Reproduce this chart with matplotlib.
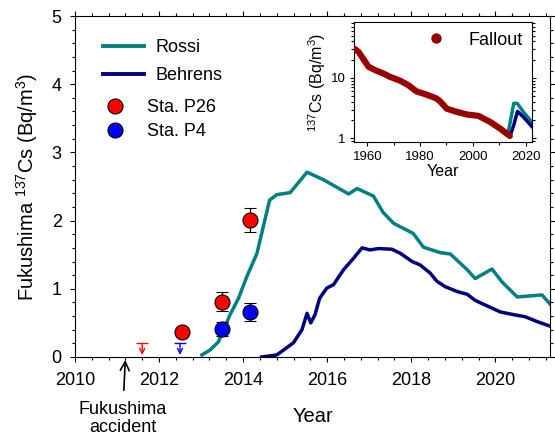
import matplotlib
matplotlib.use("Agg")
import matplotlib.pyplot as plt
from matplotlib.ticker import MultipleLocator, FixedLocator, NullFormatter
from matplotlib.lines import Line2D

plt.rcParams['font.family'] = ['Liberation Sans', 'DejaVu Sans']
plt.rcParams['mathtext.default'] = 'regular'

TEAL = "#008080"
NAVY = "#000080"
FALLOUT_RED = "#990000"

# --- main panel: model curves (Fukushima 137Cs, Bq/m3) ---
rossi_year = [2013.02, 2013.21, 2013.41, 2013.53, 2013.69, 2013.89, 2014.09, 2014.33,
              2014.63, 2014.80, 2015.12, 2015.36, 2015.52, 2015.91, 2016.51, 2016.71,
              2017.10, 2017.33, 2017.58, 2018.05, 2018.29, 2018.69, 2018.93, 2019.33,
              2019.52, 2019.92, 2020.16, 2020.52, 2021.11, 2021.31]
rossi_cs = [0.03, 0.10, 0.22, 0.39, 0.62, 0.86, 1.18, 1.52,
            2.30, 2.38, 2.41, 2.59, 2.71, 2.60, 2.39, 2.47,
            2.36, 2.12, 1.96, 1.81, 1.61, 1.53, 1.51, 1.28,
            1.15, 1.29, 1.10, 0.88, 0.91, 0.77]

behrens_year = [2014.44, 2014.80, 2014.96, 2015.20, 2015.40, 2015.52, 2015.61, 2015.71,
                2015.82, 2015.99, 2016.15, 2016.39, 2016.63, 2016.83, 2017.02, 2017.22,
                2017.54, 2017.74, 2018.02, 2018.21, 2018.45, 2018.61, 2018.81, 2019.09,
                2019.33, 2019.52, 2019.80, 2020.12, 2020.44, 2020.71, 2020.99, 2021.31]
behrens_cs = [0.0, 0.03, 0.10, 0.21, 0.40, 0.64, 0.50, 0.62,
              0.86, 1.01, 1.06, 1.28, 1.45, 1.60, 1.57, 1.59,
              1.58, 1.52, 1.40, 1.35, 1.23, 1.11, 1.03, 0.96,
              0.92, 0.83, 0.75, 0.66, 0.62, 0.59, 0.52, 0.45]

# --- observations ---
p26_year = [2012.55, 2013.5, 2014.17]
p26_cs = [0.37, 0.81, 2.01]
p26_err = [0.0, 0.14, 0.18]

p4_year = [2013.5, 2014.17]
p4_cs = [0.41, 0.66]
p4_err = [0.10, 0.13]

# detection limits (upper limits)
p26_lim_year = [2011.6]
p4_lim_year = [2012.5]
lim_cs = 0.2

accident_year = 2011.2

# --- inset: fallout plus model totals ---
fallout_year = [1954.8, 1956.7, 1960.5, 1963.0, 1966.1, 1968.6, 1972.4, 1975.5, 1978.6,
                1982.4, 1986.1, 1987.6, 1990.1, 1993.9, 1997.7, 2002.1, 2006.5,
                2010.3, 2014.0]
fallout_cs = [31.0, 26.8, 15.2, 13.4, 11.8, 10.4, 9.0, 7.6, 6.0,
              5.3, 4.6, 4.1, 3.1, 2.75, 2.49, 2.36, 1.88,
              1.46, 1.10]

inset_rossi_year = [2013.4, 2015.5, 2016.8, 2019.1, 2022.5]
inset_rossi_cs = [1.26, 3.8, 3.8, 2.75, 1.84]
inset_behrens_year = [2014.4, 2015.5, 2016.9, 2019.1, 2022.5]
inset_behrens_cs = [1.2, 1.66, 2.8, 2.27, 1.55]


fig = plt.figure(figsize=(5.55, 4.41), dpi=100)
ax = fig.add_axes([0.135, 0.1905, 0.856, 0.7732])

ax.plot(rossi_year, rossi_cs, color=TEAL, lw=2.5, label='Rossi')
ax.plot(behrens_year, behrens_cs, color=NAVY, lw=2.5, label='Behrens')

ax.errorbar(p26_year, p26_cs, yerr=p26_err, fmt='o', color='red', mec='black', mew=0.8,
            ms=10.8, ecolor='black', elinewidth=0.9, capsize=4, capthick=0.9, zorder=5)
ax.errorbar(p4_year, p4_cs, yerr=p4_err, fmt='o', color='blue', mec='black', mew=0.8,
            ms=10.8, ecolor='black', elinewidth=0.9, capsize=4, capthick=0.9, zorder=5)

# upper limits: bar plus downward arrow
for yrs, col in [(p26_lim_year, 'red'), (p4_lim_year, 'blue')]:
    for yr in yrs:
        ax.plot([yr], [lim_cs], marker='_', ms=8, mew=1.0, color=col, clip_on=False)
        ax.annotate('', xy=(yr, 0.03), xytext=(yr, lim_cs),
                    arrowprops=dict(arrowstyle='->', color=col, lw=1.0,
                                    shrinkA=0, shrinkB=0, mutation_scale=9))

# accident arrow
ax.annotate('Fukushima\naccident', xy=(accident_year, 0), xycoords='data',
            xytext=(-2, -32), textcoords='offset points', ha='center', va='top',
            fontsize=13, linespacing=1.05, annotation_clip=False,
            arrowprops=dict(arrowstyle='->', color='black', lw=1.2,
                            shrinkA=6, shrinkB=2, mutation_scale=16))

ax.set_xlim(2010, 2021.3)
ax.set_ylim(0, 5)
ax.xaxis.set_major_locator(MultipleLocator(2))
ax.xaxis.set_minor_locator(MultipleLocator(0.4))
ax.yaxis.set_major_locator(MultipleLocator(1))
ax.yaxis.set_minor_locator(MultipleLocator(0.2))
ax.tick_params(which='both', direction='out', top=True, right=True, labelsize=13)
ax.tick_params(axis='x', which='major', pad=7)
ax.tick_params(axis='y', which='major', pad=6)
ax.tick_params(which='major', length=3.5, width=0.8)
ax.tick_params(which='minor', length=2.5, width=0.8)
for s in ax.spines.values():
    s.set_linewidth(0.8)

ax.set_xlabel('Year', fontsize=14.5, labelpad=13)
ax.set_ylabel(r'Fukushima $^{137}$Cs (Bq/m$^{3}$)', fontsize=14.5, labelpad=8)

# legends
line_leg = ax.legend(handles=[Line2D([], [], color=TEAL, lw=2.8),
                              Line2D([], [], color=NAVY, lw=2.8)],
                     labels=['Rossi', 'Behrens'], loc='upper left',
                     bbox_to_anchor=(0.059, 0.933), frameon=False, fontsize=13,
                     handlelength=2.3, handletextpad=0.6, labelspacing=0.61,
                     borderpad=0, borderaxespad=0)
ax.add_artist(line_leg)
ax.legend(handles=[Line2D([], [], ls='none', marker='o', ms=10.8, mfc='red', mec='black', mew=0.8),
                   Line2D([], [], ls='none', marker='o', ms=10.8, mfc='blue', mec='black', mew=0.8)],
          labels=['Sta. P26', 'Sta. P4'], loc='upper left',
          bbox_to_anchor=(0.061, 0.756), frameon=False, fontsize=13,
          handlelength=1.2, handletextpad=1.2, labelspacing=0.4,
          borderpad=0, borderaxespad=0)

# inset
axi = fig.add_axes([0.638, 0.677, 0.321, 0.272])
axi.plot(fallout_year, fallout_cs, color=FALLOUT_RED, lw=4.5, solid_capstyle='round',
         solid_joinstyle='round', zorder=3)
axi.plot(inset_rossi_year, inset_rossi_cs, color=TEAL, lw=2.5, zorder=2)
axi.plot(inset_behrens_year, inset_behrens_cs, color=NAVY, lw=2.5, zorder=2)
axi.set_yscale('log')
axi.set_xlim(1955, 2022.5)
axi.set_ylim(0.86, 82)
axi.xaxis.set_major_locator(MultipleLocator(20))
axi.xaxis.set_minor_locator(MultipleLocator(10))
axi.yaxis.set_major_locator(FixedLocator([1, 10]))
axi.set_yticklabels(['1', '10'])
axi.yaxis.set_minor_formatter(NullFormatter())
axi.tick_params(which='both', direction='out', right=True, labelsize=9.5, pad=3)
axi.tick_params(which='major', length=3, width=0.8)
axi.tick_params(which='minor', length=2, width=0.8)
for s in axi.spines.values():
    s.set_linewidth(0.8)
axi.set_xlabel('Year', fontsize=11.5, labelpad=1)
axi.set_ylabel(r'$^{137}$Cs (Bq/m$^{3}$)', fontsize=11.5, labelpad=2)
axi.legend(handles=[Line2D([], [], ls='none', marker='o', ms=6.5, mfc=FALLOUT_RED,
                           mec=FALLOUT_RED)],
           labels=['Fallout'], loc='upper right', frameon=False, fontsize=13,
           handlelength=1.0, handletextpad=1.3, borderpad=0.2, borderaxespad=0.3)

fig.savefig('out.png', dpi=100)
